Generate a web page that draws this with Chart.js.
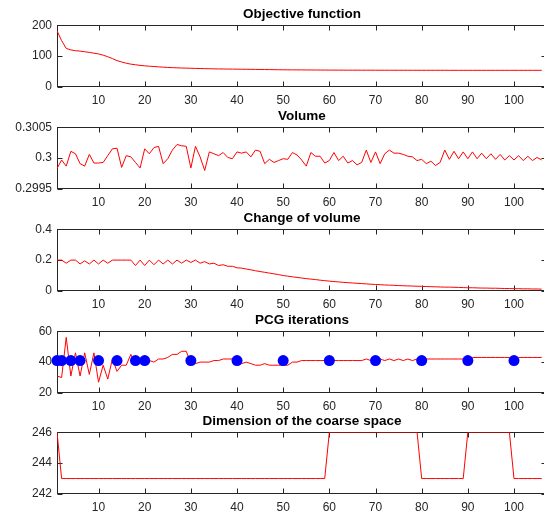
<!DOCTYPE html>
<html>
<head>
<meta charset="utf-8">
<script src="https://cdn.jsdelivr.net/npm/chart.js@4/dist/chart.umd.min.js"></script>
<style>
  html, body { margin: 0; padding: 0; background: #fff; overflow: hidden; }
  #wrap { position: relative; width: 544px; height: 514px; overflow: hidden; }
  .panel { position: absolute; left: 0; }
</style>
</head>
<body>
<div id="wrap">
  <canvas class="panel" id="c0" width="547" height="112" style="top:0px"></canvas>
  <canvas class="panel" id="c1" width="547" height="112" style="top:102px"></canvas>
  <canvas class="panel" id="c2" width="547" height="112" style="top:204px"></canvas>
  <canvas class="panel" id="c3" width="547" height="112" style="top:306px"></canvas>
  <canvas class="panel" id="c4" width="547" height="112" style="top:407px"></canvas>
</div>
<script>
// iteration index (x axis)
const iterations = Array.from({ length: 106 }, (_, i) => i + 1);
const xTicks = [10, 20, 30, 40, 50, 60, 70, 80, 90, 100];

const objective = [
  182, 150, 125, 120, 117.5, 116, 114, 112, 109.5, 107,
  103, 98, 92, 85.5, 81, 77, 74, 72, 70, 68.5,
  67.3, 66.3, 65.3, 64.2, 63.3, 62.6, 62, 61.5, 61, 60.6,
  60.2, 59.8, 59.4, 59.1, 58.8, 58.5, 58.3, 58.1, 57.9, 57.7,
  57.5, 57.3, 57.1, 56.9, 56.7, 56.5, 56.3, 56.1, 55.9, 55.7,
  55.6, 55.5, 55.4, 55.3, 55.2, 55.1, 55, 54.9, 54.8, 54.7,
  54.7, 54.6, 54.6, 54.5, 54.5, 54.5, 54.4, 54.4, 54.4, 54.3,
  54.3, 54.3, 54.3, 54.2, 54.2, 54.2, 54.2, 54.2, 54.1, 54.1,
  54.1, 54.1, 54.1, 54.1, 54.1, 54, 54, 54, 54, 54,
  54, 54, 54, 54, 54, 54, 54, 54, 54, 54,
  54, 54, 54, 54, 54, 54
];

const volume = [
  0.29983, 0.29997, 0.29987, 0.30011, 0.30007, 0.29991, 0.29987, 0.30006, 0.29992, 0.29992,
  0.29993, 0.30004, 0.30015, 0.30016, 0.29985, 0.30004, 0.30002, 0.29993, 0.29984, 0.30015,
  0.30007, 0.30017, 0.30019, 0.29991, 0.29999, 0.30013, 0.30022, 0.3002, 0.30019, 0.29984,
  0.30019, 0.30002, 0.2998, 0.3001, 0.30007, 0.30004, 0.30009, 0.30001, 0.29999, 0.3001,
  0.30008, 0.3001, 0.30002, 0.30013, 0.30011, 0.29991, 0.29998, 0.29993, 0.29996, 0.29999,
  0.29998, 0.30009, 0.30005, 0.29997, 0.29987, 0.30009, 0.30003, 0.30003, 0.29992, 0.29996,
  0.30009, 0.29996, 0.30003, 0.29992, 0.29996, 0.29989, 0.29993, 0.30013, 0.29993, 0.3001,
  0.29991, 0.30007, 0.30013, 0.30008, 0.30008, 0.30006, 0.30003, 0.30002, 0.29996, 0.29998,
  0.29991, 0.29995, 0.29988, 0.29993, 0.30013, 0.29998, 0.30011, 0.29999, 0.3001, 0.29999,
  0.3001, 0.29999, 0.30008, 0.29999, 0.30007, 0.29998, 0.30006, 0.29997, 0.30004, 0.29997,
  0.30004, 0.29996, 0.30003, 0.29996, 0.30001, 0.29997
];

const volumeChange = [
  0.2, 0.2, 0.18, 0.2, 0.2, 0.175, 0.195, 0.175, 0.2, 0.175,
  0.2, 0.18, 0.2, 0.2, 0.2, 0.2, 0.2, 0.165, 0.2, 0.165,
  0.2, 0.17, 0.2, 0.175, 0.2, 0.175, 0.2, 0.18, 0.2, 0.185,
  0.2, 0.18, 0.19, 0.175, 0.18, 0.165, 0.17, 0.16, 0.16, 0.15,
  0.148, 0.142, 0.137, 0.131, 0.126, 0.121, 0.116, 0.111, 0.106, 0.1,
  0.096, 0.092, 0.088, 0.084, 0.08, 0.077, 0.074, 0.07, 0.067, 0.064,
  0.061, 0.059, 0.056, 0.054, 0.052, 0.05, 0.048, 0.046, 0.044, 0.042,
  0.041, 0.039, 0.038, 0.037, 0.035, 0.034, 0.033, 0.032, 0.031, 0.03,
  0.029, 0.028, 0.027, 0.026, 0.025, 0.025, 0.024, 0.023, 0.022, 0.021,
  0.021, 0.02, 0.019, 0.019, 0.018, 0.018, 0.017, 0.016, 0.016, 0.015,
  0.015, 0.014, 0.014, 0.013, 0.013, 0.012
];

const pcgIterations = [
  31, 30, 56, 31, 46, 31, 46, 32, 46, 27,
  38, 29, 42, 34, 38, 38, 45, 38, 40, 41,
  41, 40, 42, 42, 43, 45, 45, 47, 47, 39,
  39, 40, 40, 40, 41, 41, 42, 42, 42, 42,
  39, 40, 39, 38, 38, 39, 38, 38, 38, 38,
  38, 40, 40, 41, 41, 41, 41, 41, 41, 41,
  41, 41, 41, 41, 41, 41, 41, 42, 41, 41,
  42, 41, 42, 41, 42, 41, 42, 41, 42, 42,
  42, 42, 42, 42, 42, 42, 42, 42, 42, 42,
  43, 43, 43, 43, 43, 43, 43, 43, 43, 43,
  43, 43, 43, 43, 43, 43
];
const rebuildIters = [1, 2, 4, 6, 10, 14, 18, 20, 30, 40, 50, 60, 70, 80, 90, 100];
const rebuildLevel = [41, 41, 41, 41, 41, 41, 41, 41, 41, 41, 41, 41, 41, 41, 41, 41];

const coarseDim = [
  246, 243, 243, 243, 243, 243, 243, 243, 243, 243,
  243, 243, 243, 243, 243, 243, 243, 243, 243, 243,
  243, 243, 243, 243, 243, 243, 243, 243, 243, 243,
  243, 243, 243, 243, 243, 243, 243, 243, 243, 243,
  243, 243, 243, 243, 243, 243, 243, 243, 243, 243,
  243, 243, 243, 243, 243, 243, 243, 243, 243, 246,
  246, 246, 246, 246, 246, 246, 246, 246, 246, 246,
  246, 246, 246, 246, 246, 246, 246, 246, 246, 243,
  243, 243, 243, 243, 243, 243, 243, 243, 243, 246,
  246, 246, 246, 246, 246, 246, 246, 246, 246, 243,
  243, 243, 243, 243, 243, 243
];

const titles = ['Objective function', 'Volume', 'Change of volume', 'PCG iterations', 'Dimension of the coarse space'];
const yTicks = [[0, 100, 200], [0.2995, 0.3, 0.3005], [0, 0.2, 0.4], [20, 40, 60], [242, 244, 246]];
const yTickLabels = [['0', '100', '200'], ['0.2995', '0.3', '0.3005'], ['0', '0.2', '0.4'], ['20', '40', '60'], ['242', '244', '246']];

const axisColor = '#262626';
const fontFamily = '"Liberation Sans", Arial, Helvetica, sans-serif';

// MATLAB-like box with inward ticks
const matlabBox = {
  id: 'matlabBox',
  beforeDatasetsDraw(chart) {
    const { ctx, chartArea: a, scales: { x, y } } = chart;
    const L = Math.round(a.left) + 0.5, R = Math.round(a.right) - 0.5;
    const T = Math.round(a.top) + 0.5, B = Math.round(a.bottom) - 0.5;
    const len = 5;
    ctx.save();
    ctx.strokeStyle = axisColor;
    ctx.lineWidth = 1;
    ctx.strokeRect(L, T, R - L, B - T);
    ctx.beginPath();
    x.ticks.forEach(t => {
      const px = Math.round(x.getPixelForValue(t.value)) + 0.5;
      ctx.moveTo(px, B); ctx.lineTo(px, B - len);
      ctx.moveTo(px, T); ctx.lineTo(px, T + len);
    });
    y.ticks.forEach(t => {
      const py = Math.round(y.getPixelForValue(t.value)) + 0.5;
      ctx.moveTo(L, py); ctx.lineTo(L + len, py);
      ctx.moveTo(R, py); ctx.lineTo(R - len, py);
    });
    ctx.stroke();
    ctx.restore();
  }
};

function toPoints(xs, ys) {
  return xs.map((v, i) => ({ x: v, y: ys[i] }));
}

function makePanel(idx, series, extra) {
  const ticks = yTicks[idx];
  const labels = yTickLabels[idx];
  const datasets = [];
  if (extra) datasets.push(extra);
  datasets.push({
    data: toPoints(iterations, series),
    borderColor: '#ff0000',
    borderWidth: 1,
    pointRadius: 0,
    tension: 0,
    fill: false
  });
  new Chart(document.getElementById('c' + idx), {
    type: 'line',
    data: { datasets },
    plugins: [matlabBox],
    options: {
      responsive: false,
      animation: false,
      events: [],
      layout: { padding: 0, autoPadding: false },
      plugins: {
        legend: { display: false },
        tooltip: { enabled: false },
        title: {
          display: true,
          text: titles[idx],
          fullSize: false,
          color: '#000',
          font: { family: fontFamily, size: 13.5, weight: 'bold', lineHeight: 1.2 },
          padding: { top: 6, bottom: 3 }
        }
      },
      scales: {
        x: {
          type: 'linear',
          min: 1,
          max: 107.15,
          grid: { display: false, drawTicks: false },
          border: { display: false },
          afterBuildTicks: s => { s.ticks = xTicks.map(v => ({ value: v })); },
          afterFit: s => { s.height = 25; },
          ticks: {
            color: axisColor,
            padding: 6,
            maxRotation: 0,
            autoSkip: false,
            font: { family: fontFamily, size: 12 },
            callback: v => String(v)
          }
        },
        y: {
          type: 'linear',
          min: ticks[0],
          max: ticks[ticks.length - 1],
          grid: { display: false, drawTicks: false },
          border: { display: false },
          afterBuildTicks: s => { s.ticks = ticks.map(v => ({ value: v })); },
          afterFit: s => { s.width = 57; },
          ticks: {
            color: axisColor,
            padding: 5,
            autoSkip: false,
            font: { family: fontFamily, size: 12 },
            callback: (v, i) => labels[i]
          }
        }
      }
    }
  });
}

makePanel(0, objective);
makePanel(1, volume);
makePanel(2, volumeChange);
makePanel(3, pcgIterations, {
  type: 'scatter',
  data: toPoints(rebuildIters, rebuildLevel),
  showLine: false,
  pointRadius: 5.5,
  pointBackgroundColor: '#0000ff',
  pointBorderWidth: 0,
  backgroundColor: '#0000ff',
  borderColor: '#0000ff',
  clip: false
});
makePanel(4, coarseDim);
</script>
</body>
</html>
